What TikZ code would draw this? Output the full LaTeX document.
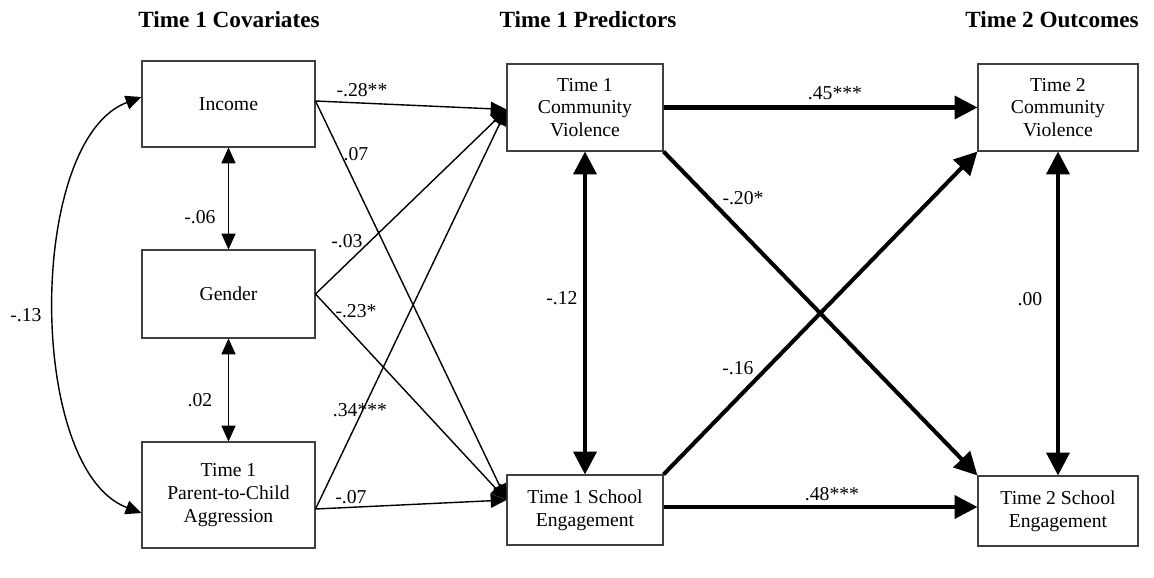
\documentclass[tikz,border=0pt]{standalone}
\usepackage{fontspec}
\setmainfont{Liberation Serif}
\usepackage{tikz}
\usetikzlibrary{arrows.meta,positioning,calc}
\newcommand{\figfont}{\fontsize{11.2}{13}\selectfont}
\newcommand{\hdrfont}{\fontsize{13.2}{15}\selectfont\bfseries}

\begin{document}
\begin{tikzpicture}[x=0.02cm, y=-0.02cm,
    var/.style={draw=black!75, line width=0.6pt, align=center, font=\figfont, inner sep=0pt},
    path/.style={line width=0.8pt, -{Triangle[length=9pt,width=8pt]}},
    corr/.style={line width=0.8pt, {Triangle[length=9pt,width=8pt]}-{Triangle[length=9pt,width=8pt]}},
    bold/.style={line width=2.3pt, -{Triangle[length=13pt,width=13pt]}},
    boldcorr/.style={line width=2.3pt, {Triangle[length=13pt,width=13pt]}-{Triangle[length=13pt,width=13pt]}},
    lab/.style={font=\figfont, inner sep=1pt},
    head/.style={font=\hdrfont}]
    \useasboundingbox (0,0) rectangle (1154,578);

    \node[head] (h1) at (229,20) {Time 1 Covariates};
    \node[head] (h2) at (588,20) {Time 1 Predictors};
    \node[head] (h3) at (1052,20) {Time 2 Outcomes};

    \node[var, minimum width=3.46cm, minimum height=1.72cm] (inc) at (228.5,104) {Income};
    \node[var, minimum width=3.46cm, minimum height=1.76cm] (gen) at (228.5,294) {Gender};
    \node[var, minimum width=3.46cm, minimum height=2.12cm] (par) at (228.5,495) {Time 1\\Parent-to-Child\\Aggression};
    \node[var, minimum width=3.12cm, minimum height=1.74cm] (cv1) at (585,107.5) {Time 1\\Community\\Violence};
    \node[var, minimum width=3.12cm, minimum height=1.40cm] (se1) at (585,510) {Time 1 School\\Engagement};
    \node[var, minimum width=3.2cm, minimum height=1.74cm] (cv2) at (1058,107.5) {Time 2\\Community\\Violence};
    \node[var, minimum width=3.2cm, minimum height=1.40cm] (se2) at (1058,511) {Time 2 School\\Engagement};

    \coordinate (incout) at ($(inc.east)+(0,-3)$);
    \coordinate (cv1in) at ($(cv1.west)+(0,2)$);
    \coordinate (se1in) at ($(se1.west)+(0,-10)$);
    \coordinate (parout) at ($(par.east)+(0,14)$);

    \draw[path] (incout) -- (cv1in);
    \draw[path] (incout) -- (se1in);
    \draw[path] (gen.east) -- (cv1in);
    \draw[path] (gen.east) -- (se1in);
    \draw[path] (parout) -- (cv1in);
    \draw[path] (parout) -- (se1in);

    \draw[corr] (inc.south) -- (gen.north);
    \draw[corr] (gen.south) -- (par.north);
    \draw[corr] ($(inc.west)+(0,-7)$) .. controls ($(inc.west)+(-115,36)$) and ($(par.west)+(-115,-25)$) .. ($(par.west)+(0,18)$);

    \draw[bold] (cv1.east) -- (cv2.west);
    \draw[bold] (cv1.south east) -- (se2.north west);
    \draw[bold] (se1.north east) -- (cv2.south west);
    \draw[bold] ($(se1.east)+(0,-3)$) -- ($(se2.west)+(0,-4)$);
    \draw[boldcorr] (cv1.south) -- (se1.north);
    \draw[boldcorr] (cv2.south) -- (se2.north);

    \node[lab] (l1) at (362,90) {-.28**};
    \node[lab] (l2) at (356,154) {.07};
    \node[lab] (l3) at (347,241) {-.03};
    \node[lab] (l4) at (356,311) {-.23*};
    \node[lab] (l5) at (360,410) {.34***};
    \node[lab] (l6) at (351,497) {-.07};
    \node[lab] (l7) at (200,217) {-.06};
    \node[lab] (l8) at (200,400) {.02};
    \node[lab] (l9) at (26,315) {-.13};
    \node[lab] (l10) at (835,93) {.45***};
    \node[lab] (l11) at (743,198) {-.20*};
    \node[lab] (l12) at (562,298) {-.12};
    \node[lab] (l13) at (738,368) {-.16};
    \node[lab] (l14) at (832,494) {.48***};
    \node[lab] (l15) at (1030,299) {.00};
\end{tikzpicture}
\end{document}
